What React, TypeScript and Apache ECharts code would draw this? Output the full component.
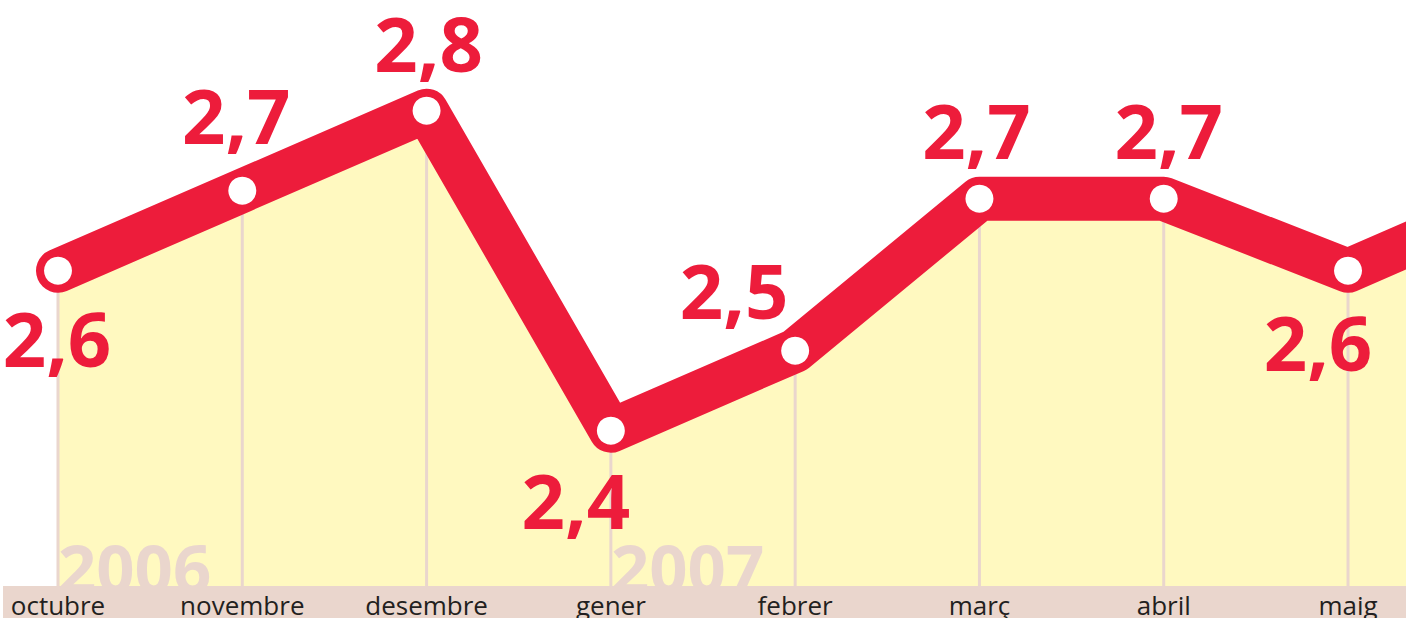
import React, { useEffect, useRef } from "react";
import * as echarts from "echarts";

const months = ["octubre", "novembre", "desembre", "gener", "febrer", "març", "abril", "maig", "juny"];
const values = [2.6, 2.7, 2.8, 2.4, 2.5, 2.69, 2.69, 2.6, 2.7];
const years = ["2006", "2007"];
// label offsets (style): [dx, dy] relative to each point, null = hidden
const labelOffsets: ([number, number] | null)[] = [
  [-1, 67], [-6, -76], [2, -68], [-35, 69], [-61, -61], [-3, -69], [5, -69], [-30, 71], null,
];
const visibleMonths = 8;

const RED = "#ED1C3B";
const YELLOW = "#FFF9C0";
const BEIGE = "#EAD6CD";

const CHART_W = 1560;

export default function App() {
  const ref = useRef<HTMLDivElement>(null);
  useEffect(() => {
    document.body.style.margin = "0";
    document.body.style.overflow = "hidden";
    const chart = echarts.init(ref.current!, null, { renderer: "svg" });
    const fmt = (v: number) => v.toFixed(1).replace(".", ",");
    chart.setOption({
      animation: false,
      grid: { left: 58, right: CHART_W - 58 - 1474.3, top: 0, bottom: 32 },
      xAxis: {
        type: "category",
        data: months,
        boundaryGap: false,
        z: 20,
        axisLine: { show: false },
        axisTick: { show: false },
        splitLine: { show: false },
        axisLabel: {
          interval: 0,
          margin: 6,
          fontFamily: "Open Sans",
          fontSize: 26,
          color: "#231F20",
          formatter: (v: string, i: number) => (i < visibleMonths ? v : ""),
        },
      },
      yAxis: {
        type: "value",
        min: 2.2059,
        max: 2.9384,
        show: false,
        splitLine: { show: false },
      },
      graphic: [
        {
          type: "text",
          x: 58,
          y: 567,
          z: 10,
          style: {
            text: years[0],
            fill: BEIGE,
            fontFamily: "Open Sans",
            fontWeight: "bold",
            fontSize: 67,
            verticalAlign: "middle",
          },
        },
        {
          type: "text",
          x: 611,
          y: 567,
          z: 10,
          style: {
            text: years[1],
            fill: BEIGE,
            fontFamily: "Open Sans",
            fontWeight: "bold",
            fontSize: 67,
            verticalAlign: "middle",
          },
        },
        {
          type: "rect",
          z: 11,
          shape: { x: 3, y: 586, width: CHART_W, height: 32 },
          style: { fill: BEIGE },
        },
      ],
      series: [
        {
          type: "line",
          data: values,
          symbol: "none",
          z: 1,
          silent: true,
          lineStyle: { width: 0, opacity: 0 },
          areaStyle: { color: YELLOW, opacity: 1, origin: "start" },
        },
        {
          type: "bar",
          data: values,
          barWidth: 3,
          z: 2,
          silent: true,
          itemStyle: { color: BEIGE },
        },
        {
          type: "line",
          z: 3,
          data: values.map((v, i) => {
            const off = labelOffsets[i];
            return off
              ? { value: v, label: { show: true, position: "inside", offset: off } }
              : { value: v, label: { show: false } };
          }),
          symbol: "circle",
          symbolSize: 28,
          itemStyle: { color: "#FFFFFF", borderWidth: 0 },
          lineStyle: { color: RED, width: 44, cap: "round", join: "round" },
          label: {
            show: true,
            formatter: (p: any) => fmt(p.value),
            fontFamily: "Open Sans",
            fontWeight: "bold",
            fontSize: 76,
            color: RED,
            align: "center",
            verticalAlign: "middle",
          },
        },
      ],
    });
    return () => chart.dispose();
  }, []);
  return (
    <div style={{ width: 1406, height: 618, overflow: "hidden", position: "relative" }}>
      <div ref={ref} style={{ width: CHART_W, height: 618 }} />
    </div>
  );
}
